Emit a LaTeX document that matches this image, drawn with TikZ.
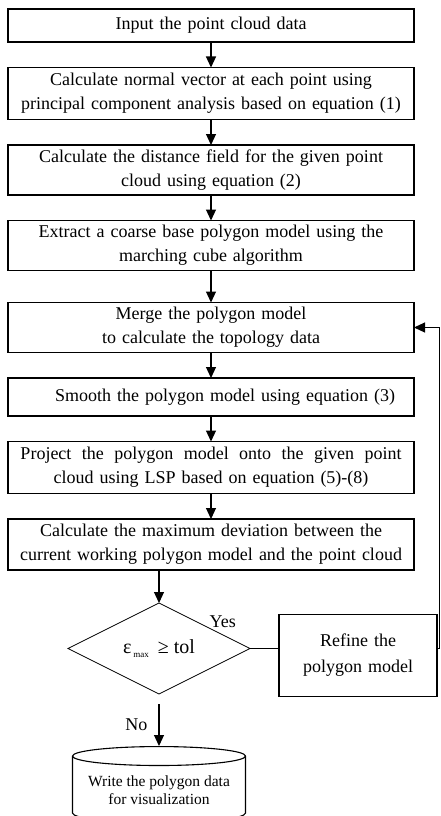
\documentclass[tikz,border=0pt]{standalone}
\usepackage{fontspec}
\setmainfont{Liberation Serif}
\usetikzlibrary{arrows.meta, positioning, calc, shapes.geometric}

\begin{document}
\begin{tikzpicture}[
  node distance=25.5pt,
  every node/.style={font=\fontsize{18}{24}\selectfont},
  box/.style={
    draw, line width=1.1pt, text width=398pt, align=center,
    minimum height=50pt, inner xsep=4pt, inner ysep=2pt, outer sep=0pt
  },
  decision/.style={
    draw, line width=0.8pt, diamond, aspect=2, inner sep=0pt,
    minimum width=182pt, minimum height=91pt, outer sep=0pt,
    font=\fontsize{20}{24}\selectfont
  },
  store/.style={
    draw, line width=1.1pt, cylinder, shape border rotate=90, aspect=0.13,
    minimum width=173pt, minimum height=76pt, align=center, inner sep=2pt,
    font=\fontsize{15.5}{18}\selectfont
  },
  arrow/.style={-{Triangle[length=11pt, width=10pt]}, line width=1.1pt},
  label/.style={inner sep=1pt}
]
  \useasboundingbox (0,0) rectangle (441pt,-816pt);

  % Colonna principale
  \node[box, minimum height=33pt] (input) at (211pt,-25.5pt) {Input the point cloud data};
  \node[box, below=of input, minimum height=52pt] (normal) {Calculate normal vector at each point using\\ principal component analysis based on equation (1)};
  \node[box, below=of normal] (field) {Calculate the distance field for the given point\\ cloud using equation (2)};
  \node[box, below=of field] (extract) {Extract a coarse base polygon model using the\\ marching cube algorithm};
  \node[box, below=32pt of extract] (merge) {Merge the polygon model\\ to calculate the topology data};
  \node[box, below=of merge, minimum height=38pt] (smooth) {\hspace*{28pt}Smooth the polygon model using equation (3)};
  \node[box, below=of smooth, minimum height=52pt] (project) {\hbox to 381pt{Project\hfill the\hfill polygon\hfill model\hfill onto\hfill the\hfill given\hfill point}\\ cloud using LSP based on equation (5)-(8)};
  \node[box, below=of project, minimum height=51pt] (deviation) {Calculate the maximum deviation between the\\ current working polygon model and the point cloud};

  % Test e rami
  \node[decision, anchor=north] (check) at ([xshift=-52pt, yshift=-33pt]deviation.south) {ε\hspace{2pt}\raisebox{-4pt}{\fontsize{9}{9}\selectfont max}\hspace{9pt}≥ tol};
  \node[box, anchor=west, text width=150pt, minimum height=82pt] (refine) at ([xshift=29pt, yshift=-7pt]check.east) {Refine the\\[2pt] polygon model};
  \node[store, anchor=north] (write) at ([yshift=-52pt]check.south) {Write the polygon data\\ for visualization};

  % Frecce verticali
  \draw[arrow] (input) -- (normal);
  \draw[arrow] (normal) -- (field);
  \draw[arrow] (field) -- (extract);
  \draw[arrow] (extract) -- (merge);
  \draw[arrow] (merge) -- (smooth);
  \draw[arrow] (smooth) -- (project);
  \draw[arrow] (project) -- (deviation);
  \draw[arrow] (deviation.south -| check.north) -- (check.north);

  % Ramo sì: raffinamento e ritorno
  \draw[line width=1.6pt] (check.east) -- (check.east -| refine.west);
  \node[label, anchor=south west] at ([xshift=4pt, yshift=-3pt]check.north east) {Yes};
  \draw[arrow] (check.east -| refine.east) -- ++(2.5pt,0) |- (merge.east);

  % Ramo no
  \draw[arrow] ([yshift=-10pt]check.south) -- (write.north)
    node[label, midway, left, xshift=-10pt] {No};

\end{tikzpicture}
\end{document}
